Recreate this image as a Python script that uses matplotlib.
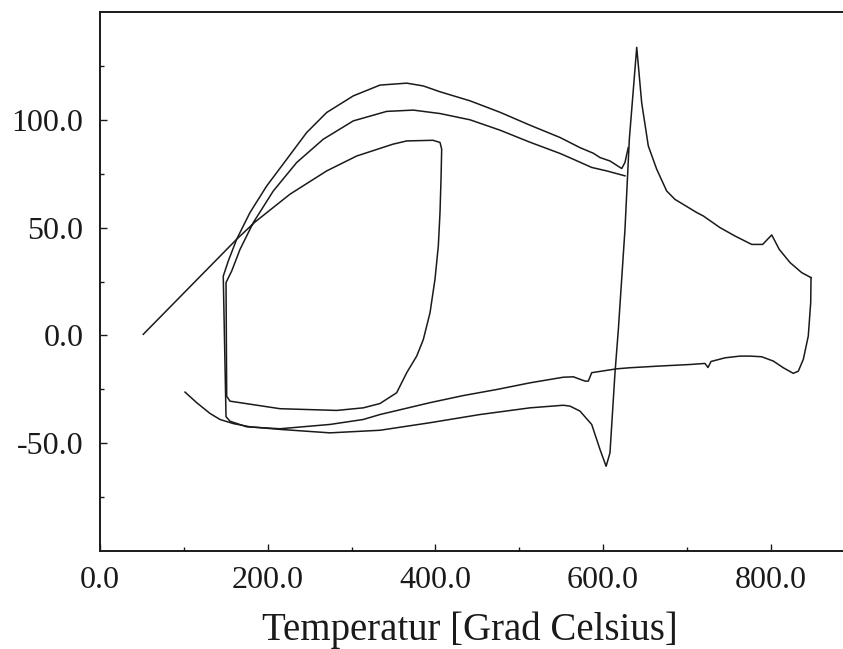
import matplotlib
matplotlib.use("Agg")
import matplotlib.pyplot as plt
from matplotlib.ticker import FixedLocator, FormatStrFormatter

plt.rcParams['font.family'] = ['Liberation Serif', 'DejaVu Serif']
plt.rcParams['axes.unicode_minus'] = False

# --- measured curves (temperature in deg C, signal value) ---
# first heating ramp, cooling loop and second heating arc
run1_temp = [51.6, 163.0, 184.9, 226.6, 270.4, 306.1, 349.4, 365.8, 397.1, 405.5,
             407.5, 406.7, 405.5, 403.5, 399.5, 393.6, 385.6, 377.7, 365.8, 353.8, 333.9,
             314.0, 282.3, 214.7, 155.0, 151.1,
             150.3, 157.1, 167.0, 182.8, 206.7, 234.6, 266.3, 302.1, 341.9, 373.6,
             405.5, 441.3, 477.0, 512.8, 548.6, 564.5, 586.4, 604.3, 626.1]
run1_val = [0.5, 44.6, 52.6, 65.5, 76.3, 83.2, 88.7, 90.2, 90.5, 89.5,
            86.4, 72.4, 57.0, 41.5, 26.0, 10.5, -1.9, -9.6, -17.3, -26.6, -31.6,
            -33.6, -34.8, -34.0, -30.5, -28.2,
            24.5, 29.9, 39.9, 52.3, 67.0, 80.2, 91.0, 99.5, 103.9, 104.5,
            102.9, 100.0, 95.2, 89.6, 84.4, 81.7, 77.9, 76.3, 74.0]

# final cooling branch up to the transformation dip, steep rise and high-temperature tail
run2_temp = [101.4, 115.3, 131.2, 143.1, 159.0, 178.9, 214.7, 274.3, 333.9, 393.6, 453.2,
             512.8, 552.5, 560.5, 572.4, 586.4, 596.3, 603.6, 608.2, 614.2, 618.2, 626.1,
             631.3, 640.1, 646.0, 653.9, 663.9, 675.8, 685.7, 711.6, 719.5, 739.4, 757.3,
             777.2, 790.3, 801.1, 810.1, 822.9, 836.9, 848.0]
run2_val = [-26.3, -31.2, -36.2, -39.0, -40.9, -42.4, -43.6, -45.2, -44.0, -40.5, -36.7,
            -33.6, -32.4, -32.8, -35.1, -41.3, -52.9, -60.7, -54.5, -17.3, 2.8, 49.2,
            91.0, 133.6, 108.0, 87.9, 77.1, 67.0, 63.1, 57.0, 55.4, 50.0, 46.1,
            42.2, 42.2, 46.6, 39.9, 33.8, 29.1, 26.8]

# return branch from the maximum temperature, third heating arc
run3_temp = [848.0, 847.6, 844.7, 838.8, 832.8, 826.8, 814.9, 803.0, 789.1, 775.2, 763.3,
             745.4, 728.7, 725.1, 721.5, 703.6, 667.9, 632.0, 616.2, 586.4, 582.4, 578.4,
             564.5, 552.5, 512.8, 473.1, 433.3, 393.6, 333.9, 314.0, 274.3, 214.7, 175.0,
             155.0, 150.3, 147.0, 153.0, 163.0, 178.9, 198.8, 222.7, 246.5, 270.4,
             302.1, 333.9, 365.8, 385.6, 405.5, 441.3, 477.0, 512.8, 548.6, 572.4, 588.3,
             596.3, 608.2, 622.2, 626.1, 630.0]
run3_val = [26.8, 15.2, -0.3, -11.1, -16.6, -17.6, -15.0, -11.9, -9.9, -9.6, -9.6,
            -10.4, -12.1, -14.9, -13.0, -13.5, -14.2, -15.0, -15.5, -17.3, -21.2, -21.2,
            -19.2, -19.4, -22.0, -25.1, -27.9, -31.2, -36.7, -39.0, -41.3, -43.3, -42.4,
            -39.8, -37.7, 27.5, 34.5, 44.6, 57.0, 69.3, 81.7, 94.1, 103.4,
            111.1, 116.1, 117.0, 115.7, 113.0, 108.8, 103.5, 97.5, 91.8, 87.1, 84.5,
            82.5, 80.9, 77.4, 80.2, 87.1]

x_major = [0, 200, 400, 600, 800]
x_minor = [100, 300, 500, 700]
y_major = [-50, 0, 50, 100]
y_minor = [-75, -25, 25, 75, 125]

fig = plt.figure(figsize=(8.43, 6.49), dpi=100)
ax = fig.add_axes([0.11862, 0.15100, 0.89519, 0.83051])

line_kw = dict(color='#1a1a1a', linewidth=1.1, solid_joinstyle='round')
for t, v in ((run1_temp, run1_val), (run2_temp, run2_val), (run3_temp, run3_val)):
    ax.plot(t, v, **line_kw)

ax.set_xlim(0, 900)
ax.set_ylim(-100, 150)

ax.xaxis.set_major_locator(FixedLocator(x_major))
ax.xaxis.set_minor_locator(FixedLocator(x_minor))
ax.yaxis.set_major_locator(FixedLocator(y_major))
ax.yaxis.set_minor_locator(FixedLocator(y_minor))
ax.xaxis.set_major_formatter(FormatStrFormatter('%.1f'))
ax.yaxis.set_major_formatter(FormatStrFormatter('%.1f'))

ax.tick_params(which='both', direction='in', color='#1a1a1a', width=1.0,
               labelsize=23, labelcolor='#1a1a1a', top=False, right=False)
ax.tick_params(which='major', length=5)
ax.tick_params(which='minor', length=3.2)
ax.tick_params(axis='y', which='major', pad=12)
ax.tick_params(axis='x', which='major', pad=11)

for s in ax.spines.values():
    s.set_linewidth(1.4)
    s.set_color('#1a1a1a')

fig.text(469.5 / 843, 1 - 630 / 649, 'Temperatur [Grad Celsius]', fontsize=28,
         ha='center', va='center', color='#1a1a1a')

fig.savefig('out.png', dpi=100)
